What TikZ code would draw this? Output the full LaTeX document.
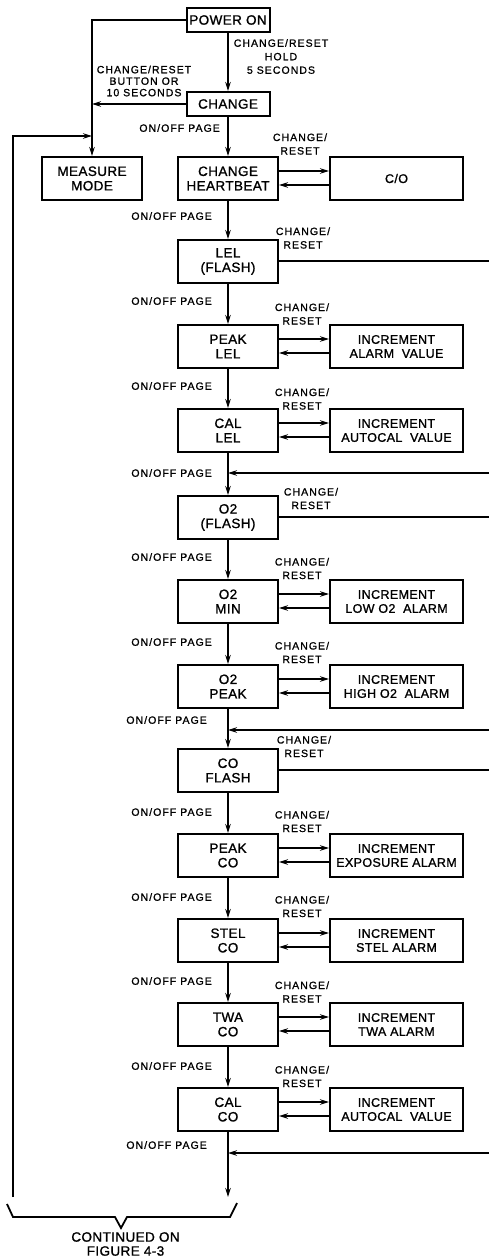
\documentclass[tikz,border=0pt]{standalone}
\usepackage{fontspec}
\setmainfont{Liberation Sans}
\newfontfamily\boxfont{Liberation Sans}[LetterSpace=3,FakeBold=1.2]
\newfontfamily\lblfont{Liberation Sans}[LetterSpace=10,FakeBold=1]
\usetikzlibrary{arrows.meta}
\tikzset{
  wire/.style={line width=2pt},
  arr/.style={wire, -{Stealth[length=9pt,width=5.5pt]}},
  box/.style={draw, line width=2pt, minimum width=100pt, minimum height=43pt,
    align=center, inner sep=1pt, font=\boxfont\fontsize{13.5}{14.5}\selectfont},
  smallbox/.style={box, minimum width=83pt, minimum height=24pt},
  incbox/.style={box, minimum width=133pt, font=\boxfont\fontsize{12.5}{14}\selectfont},
  lbl/.style={align=center, inner sep=0pt, font=\lblfont\fontsize{10.5}{13.5}\selectfont},
  onoff/.style={lbl, anchor=east},
}
\begin{document}
\begin{tikzpicture}[x=1pt, y=-1pt]
\useasboundingbox (0,0) rectangle (489,1260);
\coordinate (R) at (489,0);
% top part
\node[smallbox] (pwr) at (228,20) {POWER ON};
\node[smallbox] (chg) at (228,104) {CHANGE};
\node[box] (meas) at (92,178.5) {MEASURE\\MODE};
\node[box] (hb) at (228,178.5) {CHANGE\\HEARTBEAT};
\node[incbox] (co) at (396.5,178.5) {C/O};
% main column
\node[box] (lel) at (228,261.5) {LEL\\(FLASH)};
\node[box] (peaklel) at (228,346.5) {PEAK\\LEL};
\node[box] (callel) at (228,430.5) {CAL\\LEL};
\node[box] (o2f) at (228,517.5) {O2\\(FLASH)};
\node[box] (o2min) at (228,601.5) {O2\\MIN};
\node[box] (o2peak) at (228,686.5) {O2\\PEAK};
\node[box] (cof) at (228,770.5) {CO\\FLASH};
\node[box] (peakco) at (228,855.5) {PEAK\\CO};
\node[box] (stel) at (228,940.5) {STEL\\CO};
\node[box] (twa) at (228,1024.5) {TWA\\CO};
\node[box] (calco) at (228,1109.5) {CAL\\CO};
% increment boxes
\node[incbox] (i1) at (396.5,346.5) {INCREMENT\\ALARM\ \ VALUE};
\node[incbox] (i2) at (396.5,430.5) {INCREMENT\\AUTOCAL\ \ VALUE};
\node[incbox] (i3) at (396.5,601.5) {INCREMENT\\LOW\ O2\ \ ALARM};
\node[incbox] (i4) at (396.5,686.5) {INCREMENT\\HIGH\ O2\ \ ALARM};
\node[incbox] (i5) at (396.5,855.5) {INCREMENT\\EXPOSURE\ ALARM};
\node[incbox] (i6) at (396.5,940.5) {INCREMENT\\STEL\ ALARM};
\node[incbox] (i7) at (396.5,1024.5) {INCREMENT\\TWA\ ALARM};
\node[incbox] (i8) at (396.5,1109.5) {INCREMENT\\AUTOCAL\ \ VALUE};
% top connectors
\draw[arr] (pwr.west) -| (meas.north);
\draw[arr] (chg.west) -- (chg.west -| meas.north);
\coordinate (loopT) at (13,136);
\coordinate (loopB) at (13,1197);
\draw[arr] (loopB) -- (loopT) -- (loopT -| meas.north);
\draw[arr] (pwr) -- (chg);
\draw[arr] (chg) -- (hb);
% main chain
\foreach \a/\b in {hb/lel, lel/peaklel, peaklel/callel, callel/o2f, o2f/o2min, o2min/o2peak, o2peak/cof, cof/peakco, peakco/stel, stel/twa, twa/calco}
  \draw[arr] (\a) -- (\b);
\coordinate (endpt) at (228,1197);
\draw[arr] (calco) -- (endpt);
% side arrows
\foreach \a/\b in {hb/co, peaklel/i1, callel/i2, o2min/i3, o2peak/i4, peakco/i5, stel/i6, twa/i7, calco/i8} {
  \draw[arr] ([yshift=7.5pt]\a.east) -- ([yshift=7.5pt]\a.east -| \b.west);
  \draw[arr] ([yshift=-6.5pt]\b.west) -- ([yshift=-6.5pt]\b.west -| \a.east);
}
% off-page exits
\foreach \a in {lel, o2f, cof}
  \draw[wire] ([yshift=0.5pt]\a.east) -- ([yshift=0.5pt]\a.east -| R);
% off-page entries
\coordinate (in1) at (489,473);
\coordinate (in2) at (489,730);
\coordinate (in3) at (489,1153);
\draw[arr] (in1) -- (in1 -| o2f.north);
\draw[arr] (in2) -- (in2 -| cof.north);
\draw[arr] (in3) -- (in3 -| calco.south);
% brace
\draw[wire, line width=1.8pt] (7,1204) -- (13,1217) -- (115,1217) -- (121,1228) -- (127,1217) -- (230,1217) -- (237,1203);
\node[lbl, font=\boxfont\fontsize{13.5}{14}\selectfont] (cont) at (125.5,1244) {CONTINUED ON\\FIGURE 4-3};
% labels
\node[lbl] (l1) at (281,56.5) {CHANGE/RESET\\HOLD\\5 SECONDS};
\node[lbl, font=\lblfont\fontsize{10.5}{11.5}\selectfont] (l2) at (144,81) {CHANGE/RESET\\BUTTON OR\\10 SECONDS};
\node[onoff] (o1) at (220,128) {ON/OFF PAGE};
\foreach \y in {216,301,386,473,557,642,812,897,981,1066}
  \node[onoff] at (212,\y) {ON/OFF PAGE};
\node[onoff] (o8) at (207,720) {ON/OFF PAGE};
\node[onoff] (o13) at (207,1145) {ON/OFF PAGE};
\foreach \x/\y in {300/144, 303/238, 302/314, 302/399, 311/498.5, 302/568.5, 302/652.5, 304/746.5, 302/821.5, 302/906.5, 302/992, 302/1076.5}
  \node[lbl] at (\x,\y) {CHANGE/\\RESET};
\end{tikzpicture}
\end{document}
